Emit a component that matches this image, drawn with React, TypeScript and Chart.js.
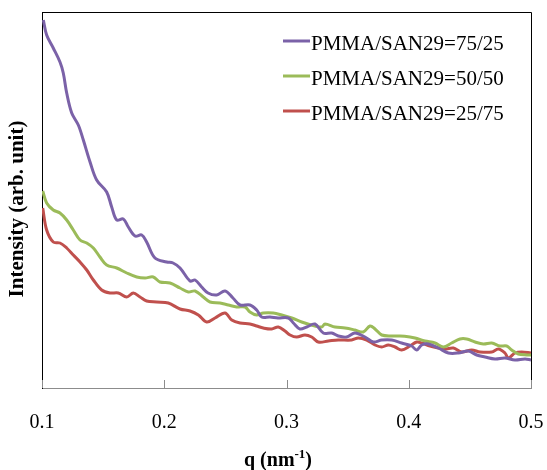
import React, { useEffect, useRef } from 'react';
import { Chart, registerables } from 'chart.js';

Chart.register(...registerables);

const seriesLabels = ['PMMA/SAN29=75/25', 'PMMA/SAN29=50/50', 'PMMA/SAN29=25/75'];
const seriesColors = ['#7b62a8', '#9bbb59', '#c0504d'];
const xTickValues = [0.1, 0.2, 0.3, 0.4, 0.5];
const xTitle = 'q (nm';
const xTitleSup = '-1';
const yTitle = 'Intensity (arb. unit)';

const qPurple = [0.1011, 0.1038, 0.1092, 0.1147, 0.1174, 0.1202, 0.1243, 0.1297, 0.1338, 0.1393, 0.1447, 0.1529, 0.157, 0.1611, 0.1665, 0.1706, 0.1761, 0.1816, 0.1856, 0.1924, 0.202, 0.2072, 0.2129, 0.2211, 0.2252, 0.2306, 0.2358, 0.2429, 0.2497, 0.2562, 0.262, 0.2701, 0.2756, 0.2797, 0.2865, 0.293, 0.3015, 0.3056, 0.311, 0.3165, 0.3233, 0.3301, 0.337, 0.3424, 0.3492, 0.356, 0.3642, 0.371, 0.3779, 0.3861, 0.3942, 0.4024, 0.4065, 0.4106, 0.416, 0.4242, 0.4324, 0.4405, 0.4487, 0.4556, 0.4624, 0.4706, 0.4787, 0.4869, 0.4951, 0.5];
const iPurple = [368, 353, 340, 326, 315, 295, 275, 263, 248, 226, 208, 196, 181, 168, 169, 161, 152, 153, 146, 130, 126, 125, 120, 107, 108, 101, 95, 93, 97, 90, 83, 83, 78, 71, 71, 70, 70, 65, 59, 61, 64, 55, 55, 52, 51, 55, 51, 46, 48, 48, 45, 42, 38, 43, 44, 40, 35, 35, 37, 33, 31, 29, 30, 28, 29, 28];

const qGreen = [0.1006, 0.1038, 0.1092, 0.1147, 0.1202, 0.1256, 0.1311, 0.1366, 0.142, 0.1474, 0.1529, 0.1611, 0.1693, 0.1775, 0.1843, 0.191, 0.1965, 0.2047, 0.2129, 0.2197, 0.2252, 0.2319, 0.2374, 0.2456, 0.2524, 0.2593, 0.2661, 0.2701, 0.2756, 0.281, 0.2892, 0.2961, 0.3043, 0.3124, 0.3233, 0.3288, 0.3315, 0.3397, 0.3479, 0.356, 0.3628, 0.3683, 0.3724, 0.3779, 0.3861, 0.3928, 0.401, 0.4051, 0.4133, 0.4215, 0.4283, 0.4351, 0.4419, 0.4474, 0.4542, 0.461, 0.4679, 0.4746, 0.4801, 0.4842, 0.4896, 0.4965, 0.5];
const iGreen = [197, 185, 178, 175, 168, 158, 148, 145, 140, 131, 123, 120, 115, 111, 110, 111, 106, 105, 100, 96, 97, 91, 86, 85, 83, 81, 81, 76, 73, 75, 75, 73, 70, 66, 62, 61, 64, 61, 60, 58, 56, 62, 59, 53, 52, 52, 51, 50, 47, 45, 41, 45, 49, 49, 46, 44, 45, 42, 42, 38, 34, 33, 33];

const qRed = [0.1006, 0.1038, 0.1092, 0.1147, 0.1202, 0.1256, 0.1311, 0.1366, 0.142, 0.1488, 0.1556, 0.1624, 0.1693, 0.1747, 0.1802, 0.1856, 0.1938, 0.2033, 0.2129, 0.2211, 0.2279, 0.2347, 0.2415, 0.2497, 0.2552, 0.262, 0.2701, 0.2756, 0.281, 0.2879, 0.2933, 0.2988, 0.3029, 0.3083, 0.3151, 0.3206, 0.326, 0.3342, 0.3424, 0.3533, 0.3587, 0.3656, 0.3724, 0.3779, 0.3833, 0.3888, 0.3942, 0.401, 0.4065, 0.4106, 0.4174, 0.4242, 0.4297, 0.4365, 0.4433, 0.4515, 0.4583, 0.4679, 0.4733, 0.4787, 0.4815, 0.4869, 0.4924, 0.5];
const iRed = [180, 158, 146, 145, 140, 133, 126, 118, 108, 98, 95, 95, 91, 95, 91, 87, 86, 85, 79, 77, 73, 66, 70, 75, 68, 65, 64, 62, 60, 59, 61, 57, 53, 51, 53, 51, 46, 47, 48, 48, 50, 48, 43, 41, 43, 41, 38, 42, 46, 45, 42, 40, 39, 40, 36, 38, 36, 36, 39, 35, 30, 35, 36, 35];

const seriesQ = [qPurple, qGreen, qRed];
const seriesI = [iPurple, iGreen, iRed];

const SERIF = "'Liberation Serif', 'Times New Roman', serif";

const framePlugin = {
  id: 'frameAndExtras',
  afterDraw(chart: any) {
    const { ctx, chartArea } = chart;
    const { left, right, top, bottom } = chartArea;
    const xs = chart.scales.x;
    ctx.save();
    ctx.strokeStyle = '#000';
    ctx.lineWidth = 1;
    ctx.beginPath();
    ctx.moveTo(left, top + 0.5);
    ctx.lineTo(right + 0.5, top + 0.5);
    ctx.lineTo(right + 0.5, bottom);
    ctx.stroke();
    ctx.strokeStyle = '#8c8c8c';
    ctx.beginPath();
    xTickValues.forEach((v) => {
      const px = Math.round(xs.getPixelForValue(v)) + 0.5;
      ctx.moveTo(px, bottom);
      ctx.lineTo(px, bottom - 8);
    });
    ctx.stroke();

    const rowY = [41, 76, 111];
    chart.data.datasets.forEach((ds: any, i: number) => {
      ctx.strokeStyle = ds.borderColor;
      ctx.lineWidth = 3;
      ctx.beginPath();
      ctx.moveTo(283, rowY[i]);
      ctx.lineTo(310, rowY[i]);
      ctx.stroke();
      ctx.fillStyle = '#000';
      ctx.font = `21px ${SERIF}`;
      ctx.textAlign = 'left';
      ctx.textBaseline = 'alphabetic';
      ctx.fillText(ds.label, 311, rowY[i] + 9);
    });

    ctx.fillStyle = '#000';
    ctx.textBaseline = 'alphabetic';
    ctx.font = `bold 20px ${SERIF}`;
    const w1 = ctx.measureText(xTitle).width;
    ctx.font = `bold 13px ${SERIF}`;
    const w2 = ctx.measureText(xTitleSup).width;
    ctx.font = `bold 20px ${SERIF}`;
    const w3 = ctx.measureText(')').width;
    const total = w1 + w2 + w3;
    const cx = 278;
    const base = 466;
    const x0 = cx - total / 2;
    ctx.textAlign = 'left';
    ctx.fillText(xTitle, x0, base);
    ctx.font = `bold 13px ${SERIF}`;
    ctx.fillText(xTitleSup, x0 + w1, base - 8);
    ctx.font = `bold 20px ${SERIF}`;
    ctx.fillText(')', x0 + w1 + w2, base);

    ctx.translate(18, 209);
    ctx.rotate(-Math.PI / 2);
    ctx.font = `bold 21px ${SERIF}`;
    ctx.textAlign = 'center';
    ctx.textBaseline = 'middle';
    ctx.fillText(yTitle, 0, 0);
    ctx.restore();
  },
};

export default function App() {
  const canvasRef = useRef<HTMLCanvasElement | null>(null);

  useEffect(() => {
    const canvas = canvasRef.current;
    if (!canvas) return;
    const datasets = seriesLabels.map((label, i) => ({
      label,
      data: seriesQ[i].map((q, j) => ({ x: q, y: seriesI[i][j] })),
      borderColor: seriesColors[i],
      backgroundColor: seriesColors[i],
      borderWidth: 3,
      pointRadius: 0,
      tension: 0.35,
      fill: false,
    }));
    const chart = new Chart(canvas, {
      type: 'line',
      data: { datasets },
      options: {
        animation: false,
        responsive: false,
        devicePixelRatio: 1,
        layout: { padding: { top: 12, right: 16, left: 0, bottom: 0 } },
        plugins: { legend: { display: false }, tooltip: { enabled: false }, title: { display: false } },
        scales: {
          x: {
            type: 'linear',
            min: 0.1,
            max: 0.5,
            afterFit: (s: any) => {
              s.height = 82;
              s.paddingLeft = 0;
              s.paddingRight = 0;
            },
            afterBuildTicks: (s: any) => {
              s.ticks = xTickValues.map((v) => ({ value: v }));
            },
            ticks: {
              color: '#000',
              font: { family: SERIF, size: 20 },
              padding: 23,
              maxRotation: 0,
              callback: (v: any) => Number(v).toFixed(1),
            },
            grid: { display: false, drawTicks: false },
            border: { display: true, color: '#8c8c8c', width: 1 },
          },
          y: {
            type: 'linear',
            min: 0,
            max: 376,
            afterFit: (s: any) => {
              s.width = 42;
              s.paddingTop = 0;
              s.paddingBottom = 0;
            },
            ticks: { display: false },
            grid: { display: false, drawTicks: false },
            border: { display: true, color: '#000', width: 1 },
          },
        },
      },
      plugins: [framePlugin],
    });
    return () => chart.destroy();
  }, []);

  return (
    <div style={{ position: 'absolute', left: 0, top: 0, width: 547, height: 470, background: '#fff' }}>
      <canvas ref={canvasRef} width={547} height={470} style={{ display: 'block' }} />
    </div>
  );
}
